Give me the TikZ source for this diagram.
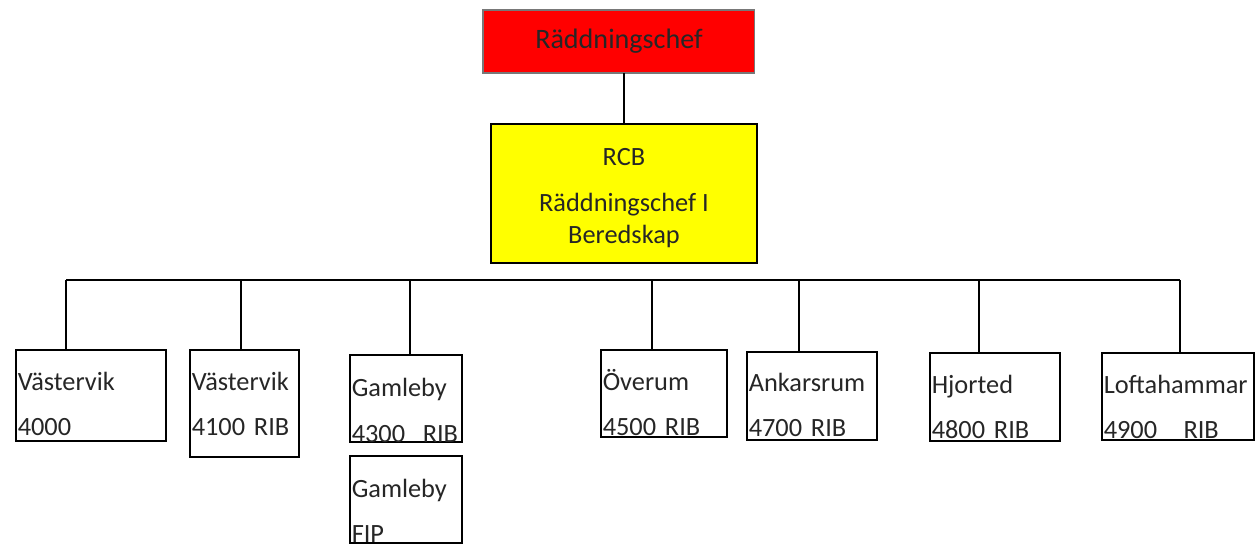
\documentclass[tikz,border=0pt]{standalone}
\usepackage{fontspec}
\setmainfont{Carlito}
\usepackage{xcolor}
\definecolor{chiefred}{RGB}{255, 0, 0}
\definecolor{rcbyellow}{RGB}{255, 255, 0}
\definecolor{textgray}{RGB}{38, 38, 38}
\definecolor{edgegray}{RGB}{120, 120, 120}

\begin{document}
\begin{tikzpicture}[x=0.02cm, y=-0.02cm,
    every node/.style={outer sep=0pt, text=textgray},
    unitbox/.style={draw, line width=0.7pt, anchor=north west, align=left, inner xsep=1pt, inner ysep=0pt, text height=0pt, font=\fontsize{15}{26}\selectfont},
    link/.style={line width=0.85pt}]
        \useasboundingbox (0, 0) rectangle (1257, 548);

        % Top of the organisation
        \node[draw=edgegray, fill=chiefred, line width=0.6pt, anchor=north west, minimum width=5.44cm, minimum height=1.26cm, font=\fontsize{16}{19}\selectfont] (chief) at (483, 10) {Räddningschef};
        \node[draw, fill=rcbyellow, line width=0.9pt, anchor=north west, align=center, inner ysep=0pt, minimum width=5.32cm, minimum height=2.78cm, text height=2cm, text depth=0pt, font=\fontsize{15}{18}\selectfont] (rcb) at (491, 124) {RCB\\[8.5pt]Räddningschef I\\Beredskap};

        % Stations
        \node[unitbox, text width=2.93cm, minimum height=1.82cm, text depth=0.22cm] (u4000) at (16, 350) {Västervik\\4000};
        \node[unitbox, text width=2.11cm, minimum height=2.14cm, text depth=0.54cm] (u4100) at (190, 350) {Västervik\\4100 RIB};
        \node[unitbox, text width=2.17cm, minimum height=1.74cm, text depth=0.06cm] (u4300) at (350, 355) {Gamleby\\4300~~RIB};
        \node[unitbox, text width=2.17cm, minimum height=1.74cm, text depth=0.10cm] (ufip) at (350, 456) {Gamleby\\FIP};
        \node[unitbox, text width=2.45cm, minimum height=1.74cm, text depth=0.14cm] (u4500) at (601, 350) {Överum\\4500 RIB};
        \node[unitbox, text width=2.53cm, minimum height=1.76cm, text depth=0.20cm] (u4700) at (747, 352) {Ankarsrum\\4700 RIB};
        \node[unitbox, text width=2.53cm, minimum height=1.76cm, text depth=0.16cm] (u4800) at (930, 353) {Hjorted\\4800 RIB};
        \node[unitbox, text width=2.97cm, minimum height=1.74cm, text depth=0.14cm] (u4900) at (1102, 353) {Loftahammar\\4900~~~RIB};

        % Bus line
        \coordinate (bus1) at (66, 280);
        \coordinate (bus2) at (241, 280);
        \coordinate (bus3) at (410, 280);
        \coordinate (bus4) at (652, 280);
        \coordinate (bus5) at (799, 280);
        \coordinate (bus6) at (979, 280);
        \coordinate (bus7) at (1180, 280);

        % Connections
        \draw[link] (rcb.north |- chief.south) -- (rcb.north);
        \draw[link] (bus1) -- (bus7);
        \draw[link] (bus1) -- (bus1 |- u4000.north);
        \draw[link] (bus2) -- (bus2 |- u4100.north);
        \draw[link] (bus3) -- (bus3 |- u4300.north);
        \draw[link] (bus4) -- (bus4 |- u4500.north);
        \draw[link] (bus5) -- (bus5 |- u4700.north);
        \draw[link] (bus6) -- (bus6 |- u4800.north);
        \draw[link] (bus7) -- (bus7 |- u4900.north);

    \end{tikzpicture}
\end{document}
